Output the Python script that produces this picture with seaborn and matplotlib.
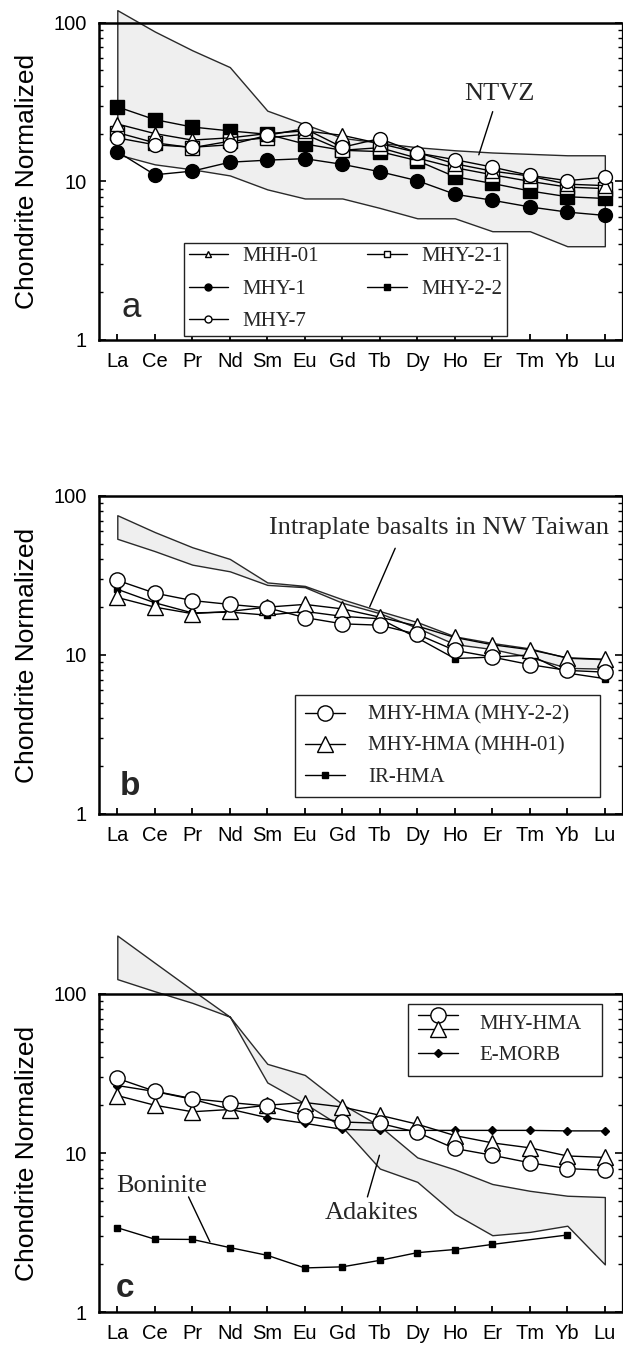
import numpy as np
import pandas as pd
import matplotlib
matplotlib.use("Agg")
import matplotlib.pyplot as plt
import seaborn as sns
from matplotlib.ticker import FixedLocator, FuncFormatter, LogLocator, NullFormatter
from matplotlib.legend_handler import HandlerBase
from matplotlib.lines import Line2D

# ---------------- data ----------------
ELEMENTS = ["La", "Ce", "Pr", "Nd", "Sm", "Eu", "Gd", "Tb", "Dy", "Ho", "Er", "Tm", "Yb", "Lu"]

MHH01 = [23.0, 20.0, 18.2, 18.8, 20.0, 20.8, 19.5, 17.3, 15.2, 12.9, 11.6, 10.8, 9.6, 9.4]
MHY1 = [15.4, 11.0, 11.6, 13.2, 13.6, 13.9, 12.8, 11.5, 10.1, 8.3, 7.6, 6.9, 6.4, 6.1]
MHY7 = [18.8, 17.0, 16.4, 17.0, 19.5, 21.5, 16.4, 18.6, 15.1, 13.7, 12.3, 10.9, 10.1, 10.6]
MHY21 = [20.3, 17.5, 16.3, 17.9, 18.8, 19.8, 15.7, 16.3, 14.0, 12.2, 11.0, 10.0, 9.2, 9.0]
MHY22 = [29.5, 24.5, 22.0, 20.8, 19.8, 17.2, 15.7, 15.4, 13.5, 10.7, 9.7, 8.7, 8.0, 7.8]
IR_HMA = [25.9, 21.3, 18.4, 18.6, 17.8, 18.8, 17.5, 16.9, 12.8, 9.5, 9.7, 10.0, 7.7, 7.1]
E_MORB = [26.6, 24.4, 21.8, 18.9, 16.7, 15.4, 14.1, 13.9, 13.9, 13.9, 13.9, 13.9, 13.8, 13.8]
BONINITE = [3.4, 2.88, 2.87, 2.55, 2.28, 1.90, 1.93, 2.12, 2.37, 2.48, 2.67, np.nan, 3.06, np.nan]

NTVZ_UPPER = [120, 88, 67, 52.5, 27.9, 22.9, 18.8, 17.5, 16.4, 15.7, 15.2, 14.9, 14.6, 14.6]
NTVZ_LOWER = [14.8, 12.8, 11.9, 10.9, 8.9, 7.8, 7.8, 6.8, 5.85, 5.85, 4.85, 4.85, 3.9, 3.9]
INTRA_UPPER = [75.7, 59.3, 47.6, 40.2, 28.6, 27.2, 22.4, 18.9, 16.1, 13.1, 11.9, 11.0, 9.6, 9.4]
INTRA_LOWER = [53.8, 45.0, 37.0, 33.6, 27.6, 26.7, 21.3, 18.3, 14.8, 11.7, 10.9, 9.7, 8.3, 8.2]
ADAK_UPPER = [233, 157, 106, 72, 36.4, 31.0, 20.3, 14.8, 9.4, 7.9, 6.4, 5.8, 5.4, 5.3]
ADAK_LOWER = [124, 104, 88, 72, 27.8, 20.5, 14.6, 8.0, 6.6, 4.15, 3.05, 3.2, 3.5, 2.0]

POS = np.arange(len(ELEMENTS))

# ---------------- style ----------------
sns.set_theme(style="ticks")
SANS = ["Liberation Sans", "DejaVu Sans"]
SERIF = ["Liberation Serif", "DejaVu Serif"]
plt.rcParams["font.family"] = SANS
plt.rcParams["axes.edgecolor"] = "black"
plt.rcParams["xtick.color"] = "black"
plt.rcParams["ytick.color"] = "black"

FILL = "#efefef"
EDGE = "#2a2a2a"

fig = plt.figure(figsize=(6.23, 13.46), dpi=100)
L, W = 0.15939, 0.83852
ax_a = fig.add_axes([L, 0.74740, W, 0.23574])
ax_b = fig.add_axes([L, 0.39525, W, 0.23626])
ax_c = fig.add_axes([L, 0.02504, W, 0.23648])


def style_axes(ax):
    ax.set_yscale("log")
    ax.set_ylim(1, 100)
    ax.set_xlim(-0.48, 13.45)
    ax.set_xticks(POS)
    ax.set_xticklabels(ELEMENTS)
    ax.yaxis.set_major_locator(FixedLocator([1, 10, 100]))
    ax.yaxis.set_major_formatter(FuncFormatter(lambda v, p: f"{v:g}"))
    ax.yaxis.set_minor_locator(LogLocator(base=10, subs=range(2, 10)))
    ax.yaxis.set_minor_formatter(NullFormatter())
    ax.tick_params(axis="x", direction="in", length=4, width=1.3, labelsize=14.5, pad=8.5,
                   top=False, bottom=True)
    ax.tick_params(axis="y", which="major", direction="in", length=5, width=1.2, left=True,
                   right=True, labelsize=14.5, pad=9)
    ax.tick_params(axis="y", which="minor", direction="in", length=3, width=1.0, left=True, right=True)
    for s in ["left", "bottom", "top"]:
        ax.spines[s].set_linewidth(1.8)
        ax.spines[s].set_color("black")
    ax.spines["right"].set_linewidth(0.9)
    ax.spines["right"].set_color("black")
    ax.grid(False)
    ax.set_xlabel("")
    ax.set_ylabel("Chondrite Normalized", fontsize=19, color="black")
    ax.yaxis.set_label_coords(-0.115, 0.5)


def band(ax, lower, upper):
    ax.fill_between(POS, lower, upper, facecolor=FILL, edgecolor=EDGE, linewidth=1.0,
                    clip_on=False, zorder=1)


def draw(ax, values, **style):
    df = pd.DataFrame({"pos": POS, "val": values}).dropna()
    sns.lineplot(data=df, x="pos", y="val", ax=ax, estimator=None, sort=True,
                 color="black", linewidth=1.0, legend=False, zorder=3, **style)
    return ax.lines[-1]


def mk(marker, size, face):
    return dict(marker=marker, markersize=size, markerfacecolor=face,
                markeredgecolor="black", markeredgewidth=1.0)


def pointer(ax, start, end):
    ax.annotate("", xy=end, xytext=start,
                arrowprops=dict(arrowstyle="-", color="black", lw=1.0, shrinkA=0, shrinkB=0))


class Stacked:
    def __init__(self, *lines):
        self.lines = lines


class HandlerStacked(HandlerBase):
    def create_artists(self, legend, orig_handle, xdescent, ydescent, width, height, fontsize, trans):
        arts = []
        n = len(orig_handle.lines)
        yc = height / 2 - ydescent
        offs = np.linspace(4.8, -4.8, n)
        for h, dy in zip(orig_handle.lines, offs):
            y = yc + dy
            ln = Line2D([-xdescent, -xdescent + width], [y, y], color="black", lw=1.0, transform=trans)
            m = Line2D([-xdescent + width / 2], [y], linestyle="none", marker=h.get_marker(),
                       markersize=h.get_markersize(), markerfacecolor=h.get_markerfacecolor(),
                       markeredgecolor="black", markeredgewidth=1.0, transform=trans)
            arts += [ln, m]
        return arts


def make_legend(ax, handles, labels, anchor, **kw):
    leg = ax.legend(handles, labels, loc="upper left", bbox_to_anchor=anchor, borderaxespad=0,
                    frameon=True, fancybox=False, framealpha=1, edgecolor="#222222",
                    prop={"family": SERIF, "size": 15}, **kw)
    leg.get_frame().set_linewidth(1.0)
    leg.set_zorder(5)
    return leg


# ---------------- panel a ----------------
ax = ax_a
ax.set_yscale("log")
band(ax, NTVZ_LOWER, NTVZ_UPPER)
h_mhy1 = draw(ax, MHY1, **mk("o", 10, "black"))
h_mhy22 = draw(ax, MHY22, **mk("s", 10, "black"))
h_mhy21 = draw(ax, MHY21, **mk("s", 9.5, "white"))
h_mhh01 = draw(ax, MHH01, **mk("^", 10, "white"))
h_mhy7 = draw(ax, MHY7, **mk("o", 10, "white"))
style_axes(ax)
ax.text(10.18, 32.6, "NTVZ", family=SERIF, fontsize=19, ha="center", va="baseline")
pointer(ax, (10.01, 27.5), (9.64, 14.7))
ax.text(0.38, 1.40, "a", fontsize=25, ha="center", va="baseline")
make_legend(ax, [h_mhh01, h_mhy1, h_mhy7, h_mhy21, h_mhy22],
            ["MHH-01", "MHY-1", "MHY-7", "MHY-2-1", "MHY-2-2"], (0.163, 0.3067),
            ncol=2, markerscale=0.5, handlelength=1.9, handletextpad=0.7, columnspacing=2.3,
            labelspacing=0.62, borderpad=0.2)

# ---------------- panel b ----------------
ax = ax_b
ax.set_yscale("log")
band(ax, INTRA_LOWER, INTRA_UPPER)
h_ir = draw(ax, IR_HMA, **mk("s", 5, "black"))
h_tri = draw(ax, MHH01, **mk("^", 11, "white"))
h_cir = draw(ax, MHY22, **mk("o", 11, "white"))
style_axes(ax)
ax.text(8.57, 57.7, "Intraplate basalts in NW Taiwan", family=SERIF, fontsize=19, ha="center",
        va="baseline")
pointer(ax, (7.41, 46.9), (6.73, 20.1))
ax.text(0.34, 1.32, "b", fontsize=24, fontweight="bold", ha="center", va="baseline")
make_legend(ax, [h_cir, h_tri, h_ir], ["MHY-HMA (MHY-2-2)", "MHY-HMA (MHH-01)", "IR-HMA"],
            (0.3746, 0.3748, 0.5838, 0.0), mode="expand", handlelength=1.9, handletextpad=1.1,
            labelspacing=0.55, borderpad=0.5)

# ---------------- panel c ----------------
ax = ax_c
ax.set_yscale("log")
band(ax, ADAK_LOWER, ADAK_UPPER)
h_bon = draw(ax, BONINITE, **mk("s", 5, "black"))
h_emorb = draw(ax, E_MORB, **mk("D", 4, "black"))
h_tri_c = draw(ax, MHH01, **mk("^", 11, "white"))
h_cir_c = draw(ax, MHY22, **mk("o", 11, "white"))
style_axes(ax)
ax.text(1.17, 5.72, "Boninite", family=SERIF, fontsize=19, ha="center", va="baseline")
pointer(ax, (1.90, 5.31), (2.47, 2.77))
ax.text(6.78, 3.83, "Adakites", family=SERIF, fontsize=19, ha="center", va="baseline")
pointer(ax, (6.67, 5.31), (6.99, 9.7))
ax.text(0.21, 1.25, "c", fontsize=24, fontweight="bold", ha="center", va="baseline")
make_legend(ax, [Stacked(h_cir_c, h_tri_c), h_emorb], ["MHY-HMA", "E-MORB"],
            (0.5904, 0.9676, 0.3725, 0.0), mode="expand",
            handler_map={Stacked: HandlerStacked()}, handlelength=1.9, handletextpad=1.05,
            labelspacing=0.55, borderpad=0.5)

fig.savefig("out.png", dpi=100)
